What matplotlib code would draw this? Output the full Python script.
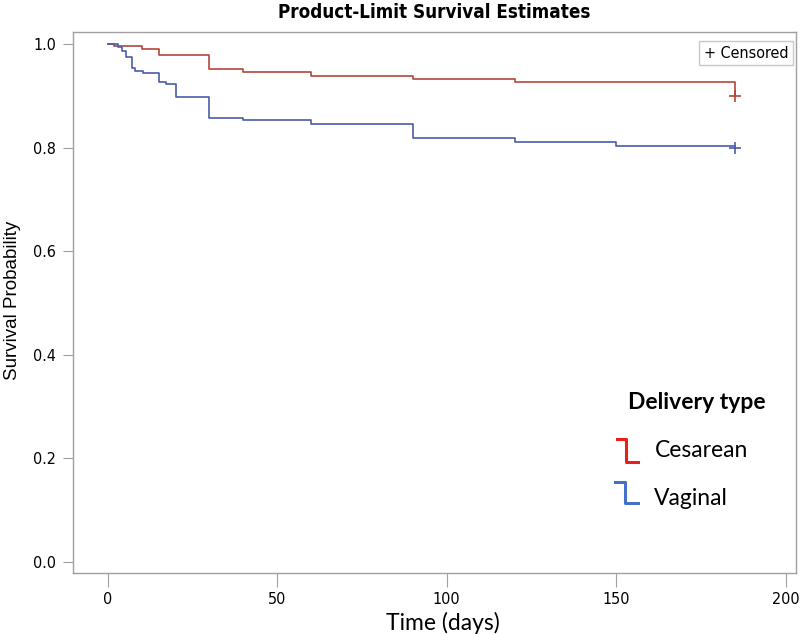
import matplotlib
matplotlib.use("Agg")
import matplotlib.pyplot as plt
from matplotlib import font_manager as fm

# Data
ces_times = [0, 2, 10, 15, 30, 40, 60, 90, 120, 185]
ces_surv = [1.0, 0.996, 0.990, 0.978, 0.951, 0.945, 0.939, 0.933, 0.927, 0.900]
vag_times = [0, 3.2, 4.1, 5.3, 7.1, 8.2, 10.3, 15.2, 17.1, 20.2, 30, 40, 60, 90, 120, 150, 185]
vag_surv = [1.0, 0.995, 0.986, 0.974, 0.954, 0.948, 0.943, 0.927, 0.922, 0.898,
            0.858, 0.853, 0.846, 0.819, 0.810, 0.804, 0.799]
censor_time = 185
ces_censor = 0.900
vag_censor = 0.799
x_ticks = [0, 50, 100, 150, 200]
y_ticks = [0.0, 0.2, 0.4, 0.6, 0.8, 1.0]

red = "#B5453B"
blue = "#4A5EA8"

# look for a condensed font
cond = None
for f in fm.fontManager.ttflist:
    if "Condensed" in f.fname or "Narrow" in f.fname or f.stretch in ("condensed", "semi-condensed"):
        cond = f
        break
if cond is not None:
    narrow = [cond.name]
    narrow_stretch = cond.stretch
else:
    narrow = ["Liberation Sans", "DejaVu Sans"]
    narrow_stretch = "normal"

fig = plt.figure(figsize=(8, 6.34), dpi=100)
ax = fig.add_axes([0.0909, 0.0962, 0.904, 0.8533])

ax.step(ces_times, ces_surv, where="post", color=red, lw=1.2)
ax.step(vag_times, vag_surv, where="post", color=blue, lw=1.2)
ax.plot([censor_time], [ces_censor], marker="+", ms=9, mew=1.2, color=red, ls="none")
ax.plot([censor_time], [vag_censor], marker="+", ms=9, mew=1.2, color=blue, ls="none")

ax.set_xlim(-10.3, 203)
ax.set_ylim(-0.021, 1.023)
ax.set_xticks(x_ticks)
ax.set_xticklabels([str(v) for v in x_ticks], family=narrow, stretch=narrow_stretch, fontsize=11.5)
ax.set_yticks(y_ticks)
ax.set_yticklabels([f"{v:.1f}" for v in y_ticks], family=narrow, stretch=narrow_stretch, fontsize=11.5)
ax.tick_params(axis="x", length=10, color="#A0A0A0", pad=4)
ax.tick_params(axis="y", length=7, color="#A0A0A0", pad=5)
for s in ax.spines.values():
    s.set_color("#A0A0A0")
    s.set_linewidth(1.0)

ax.set_title("Product-Limit Survival Estimates", family=narrow, stretch=narrow_stretch,
             fontweight="bold", fontsize=13.5, pad=10)
fig.text(0.016, 0.527, "Survival Probability", rotation=90, ha="center", va="center",
         family=["Liberation Sans", "DejaVu Sans"], fontsize=13.5)
fig.text(0.553, 0.0175, "Time (days)", ha="center", va="center",
         family=["Lato", "DejaVu Sans"], fontsize=16.5)

# Censored legend box
ax.text(0.99, 0.975, "+ Censored", transform=ax.transAxes, ha="right", va="top",
        family=narrow, stretch=narrow_stretch, fontsize=11.5,
        bbox=dict(boxstyle="square,pad=0.3", fc="white", ec="#C8C8C8", lw=1))

# Delivery type legend
fig.text(0.785, 0.365, "Delivery type", ha="left", va="center",
         family=["Lato", "DejaVu Sans"], fontweight="bold", fontsize=16.5)
fig.text(0.818, 0.289, "Cesarean", ha="left", va="center",
         family=["Lato", "DejaVu Sans"], fontsize=16.5)
fig.text(0.818, 0.214, "Vaginal", ha="left", va="center",
         family=["Lato", "DejaVu Sans"], fontsize=16.5)
fig.add_artist(plt.Line2D([0.771, 0.783, 0.783, 0.798], [0.308, 0.308, 0.272, 0.272],
                          color="#E8201A", lw=2.2, transform=fig.transFigure))
fig.add_artist(plt.Line2D([0.769, 0.781, 0.781, 0.797], [0.240, 0.240, 0.207, 0.207],
                          color="#4472C4", lw=2.2, transform=fig.transFigure))

fig.savefig("out.png", dpi=100)
